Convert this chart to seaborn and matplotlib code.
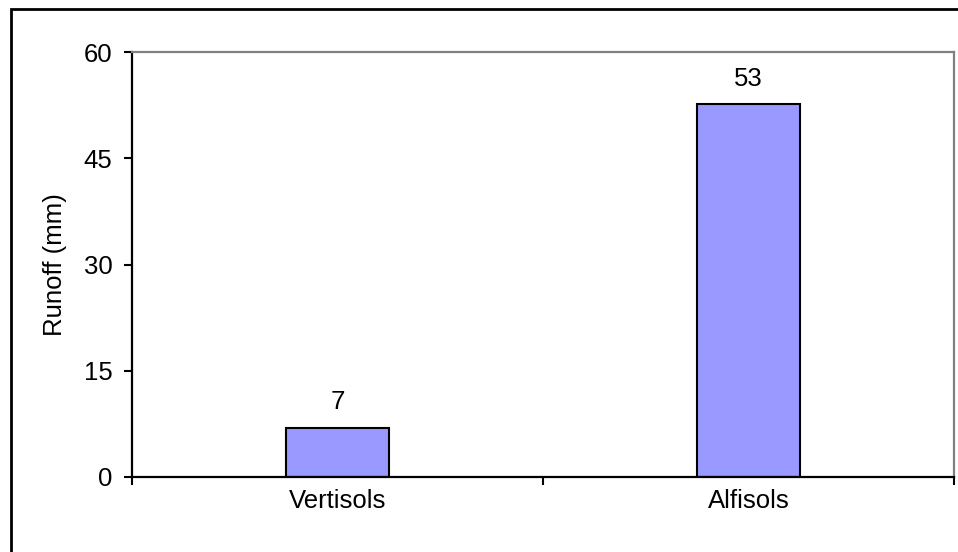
import matplotlib
matplotlib.use("Agg")
import matplotlib.pyplot as plt
from matplotlib.patches import Rectangle
import seaborn as sns
import pandas as pd

# Runoff per soil type
soils = ["Vertisols", "Alfisols"]
runoff_mm = [6.9, 52.6]
y_ticks = [0, 15, 30, 45, 60]

sns.set_theme(style="white")
plt.rcParams["font.family"] = ["Liberation Sans", "DejaVu Sans"]
plt.rcParams["font.size"] = 18.5

df = pd.DataFrame({"soil": soils, "runoff": runoff_mm})

fig = plt.figure(figsize=(9.58, 5.52), dpi=100)
ax = fig.add_axes([132 / 958, 1 - 477 / 552, (954 - 132) / 958, (477 - 52) / 552])

sns.barplot(data=df, x="soil", y="runoff", ax=ax, width=0.25, color="#9999FF",
            saturation=1, edgecolor="black", linewidth=1.5)

ax.set_xlim(-0.5, len(soils) - 0.5)
ax.set_ylim(0, 60)
ax.set_yticks(y_ticks)
# category boundaries carry the tick marks, category centres carry the names
ax.set_xticks([i - 0.5 for i in range(len(soils) + 1)], minor=False)
ax.set_xticklabels([""] * (len(soils) + 1))
ax.set_xticks(range(len(soils)), minor=True)
ax.set_xticklabels(soils, minor=True)
ax.tick_params(axis="x", which="minor", length=0, pad=9, labelsize=18.5, colors="black")
ax.tick_params(axis="x", which="major", direction="out", length=6, width=1.5,
               color="black", bottom=True)
ax.tick_params(axis="y", direction="out", length=6, width=1.5, color="black",
               left=True, pad=8, labelsize=18.5, labelcolor="black")

ax.set_xlabel("")
ax.set_ylabel("Runoff (mm)", fontsize=18.5, color="black", labelpad=12)

for side in ("left", "bottom"):
    ax.spines[side].set_color("black")
    ax.spines[side].set_linewidth(1.6)
for side in ("top", "right"):
    ax.spines[side].set_visible(True)
    ax.spines[side].set_color("#808080")
    ax.spines[side].set_linewidth(1.6)

for cont in ax.containers:
    ax.bar_label(cont, fmt="%.0f", padding=10, fontsize=18.5, color="black")

# chart frame
fig.patches.append(Rectangle((11 / 958, -0.05), 1.2, 1 - 9 / 552 + 0.05,
                             transform=fig.transFigure, fill=False,
                             edgecolor="black", linewidth=2, zorder=10))

fig.savefig("out.png", dpi=100)
